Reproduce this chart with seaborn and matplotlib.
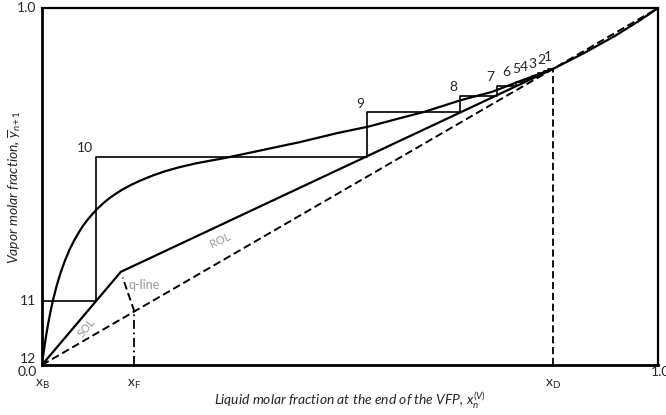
import numpy as np
import pandas as pd
import seaborn as sns
import matplotlib.pyplot as plt

# equilibrium curve
eq_x = [0, 0.002, 0.004, 0.007, 0.01, 0.014, 0.018, 0.024, 0.03, 0.037, 0.045, 0.052,
        0.06, 0.067, 0.075, 0.082, 0.09, 0.10, 0.11, 0.12, 0.13, 0.145, 0.16, 0.18,
        0.20, 0.225, 0.25, 0.30, 0.36, 0.42, 0.48, 0.53, 0.58, 0.62, 0.68, 0.73, 0.78,
        0.83, 0.88, 0.93, 0.97, 1.0]
eq_y = [0, 0.027, 0.051, 0.085, 0.115, 0.151, 0.182, 0.223, 0.257, 0.291, 0.324, 0.348,
        0.372, 0.391, 0.409, 0.423, 0.438, 0.454, 0.468, 0.480, 0.491, 0.505, 0.517, 0.531,
        0.543, 0.555, 0.565, 0.581, 0.603, 0.625, 0.650, 0.668, 0.691, 0.709, 0.742, 0.765,
        0.798, 0.830, 0.874, 0.922, 0.965, 1.0]

# compositions
x_B = 0.0
x_F = 0.15
x_D = 0.83
kink = (0.128, 0.261)          # ROL / SOL intersection
q_end = (0.131, 0.245)         # where the dashed q-line stops

# stage corners (top-left of each step), stage 1..12
stages = [1, 2, 3, 4, 5, 6, 7, 8, 9, 10, 11, 12]
stage_x = [0.822, 0.815, 0.806, 0.796, 0.784, 0.769, 0.738, 0.679, 0.527, 0.088, 0.0, 0.0]
stage_y = [0.830, 0.824, 0.818, 0.811, 0.802, 0.793, 0.781, 0.755, 0.708, 0.584, 0.180, 0.0]

# label nudges (points) so the crowded top labels spread like the original
label_off = {1: (2.5, 4.5), 2: (1, 3.5), 3: (-1.5, 2), 4: (-3, 1.5), 5: (-3, 2.5), 6: (-3.5, 3)}

sns.set_style("white")
plt.rcParams['font.family'] = ['Lato', 'DejaVu Sans']
plt.rcParams['mathtext.fontset'] = 'custom'
plt.rcParams['mathtext.rm'] = 'Lato'
plt.rcParams['mathtext.it'] = 'Lato:italic'

fig = plt.figure(figsize=(6.66, 4.15), dpi=100)
ax = fig.add_axes([0.063, 0.1205, 0.925, 0.86])

# staircase: (x_D,x_D) -> corner1 -> down/left ... -> (0,0)
sx, sy = [x_D], [x_D]
for i in range(len(stages)):
    sx += [stage_x[i]]
    sy += [stage_y[i]]
    if i + 1 < len(stages):
        sx += [stage_x[i]]
        sy += [stage_y[i + 1]]
stairs = pd.DataFrame({'x': sx, 'y': sy})
sns.lineplot(data=stairs, x='x', y='y', sort=False, estimator=None, color='black', lw=1.2, ax=ax)

# equilibrium curve
sns.lineplot(x=eq_x, y=eq_y, sort=False, estimator=None, color='black', lw=1.6, ax=ax)

# operating lines
sns.lineplot(x=[0, kink[0], x_D], y=[0, kink[1], x_D], sort=False, estimator=None,
             color='black', lw=1.6, ax=ax)

# diagonal
ax.plot([0, 1], [0, 1], color='black', lw=1.4, dashes=(4, 2))
# q-line
ax.plot([x_F, q_end[0]], [x_F, q_end[1]], color='black', lw=1.4, dashes=(4, 2))
ax.plot([x_F, x_F], [0, x_F], color='black', lw=1.3, dashes=(5, 2, 1, 2))
# x_D drop line
ax.plot([x_D, x_D], [0, x_D], color='black', lw=1.3, dashes=(4, 2))

# stage labels
for n, xs, ys in zip(stages, stage_x, stage_y):
    if n >= 11:
        continue
    ax.annotate(str(n), (xs, ys), xytext=label_off.get(n, (-2, 2)), textcoords='offset points',
                ha='right', va='bottom', fontsize=10)
ax.annotate('11', (0, stage_y[10]), xytext=(-4, 0), textcoords='offset points',
            ha='right', va='center', fontsize=10, annotation_clip=False)
ax.annotate('12', (0, 0), xytext=(-4, 0), textcoords='offset points',
            ha='right', va='bottom', fontsize=10, annotation_clip=False)
ax.annotate('0.0', (0, 0), xytext=(-4, -1), textcoords='offset points',
            ha='right', va='top', fontsize=10, annotation_clip=False)
ax.annotate('1.0', (0, 1), xytext=(-4, 0), textcoords='offset points',
            ha='right', va='center', fontsize=10, annotation_clip=False)
ax.annotate('1.0', (1, 0), xytext=(2, -1), textcoords='offset points',
            ha='center', va='top', fontsize=10, annotation_clip=False)

# line names
ax.text(0.289, 0.35, 'ROL', color='#999999', fontsize=8, rotation=25,
        ha='center', va='center')
ax.text(0.072, 0.104, 'SOL', color='#999999', fontsize=8, rotation=50,
        ha='center', va='center')
ax.text(0.141, 0.224, 'q-line', color='#999999', fontsize=9, ha='left', va='center')

ax.set_xlim(0, 1)
ax.set_ylim(0, 1)
ax.set_xticks([x_B, x_F, x_D])
ax.set_xticklabels([r'$\mathregular{x_B}$', r'$\mathregular{x_F}$', r'$\mathregular{x_D}$'],
                   fontsize=10)
ax.tick_params(axis='x', direction='inout', length=13, width=3.5, pad=3, color='black')
ax.set_yticks([])
ax.set_xlabel(r'Liquid molar fraction at the end of the VFP, $x_n^{(V)}$',
              fontstyle='italic', fontsize=10, labelpad=0)
ax.set_ylabel(r'Vapor molar fraction, $\overline{y}_{n+1}$',
              fontstyle='italic', fontsize=10, labelpad=13)
for s in ax.spines.values():
    s.set_color('black')
    s.set_linewidth(1.6)
ax.spines['bottom'].set_linewidth(2.0)
ax.spines['left'].set_linewidth(2.0)

plt.savefig('out.png', dpi=100)
